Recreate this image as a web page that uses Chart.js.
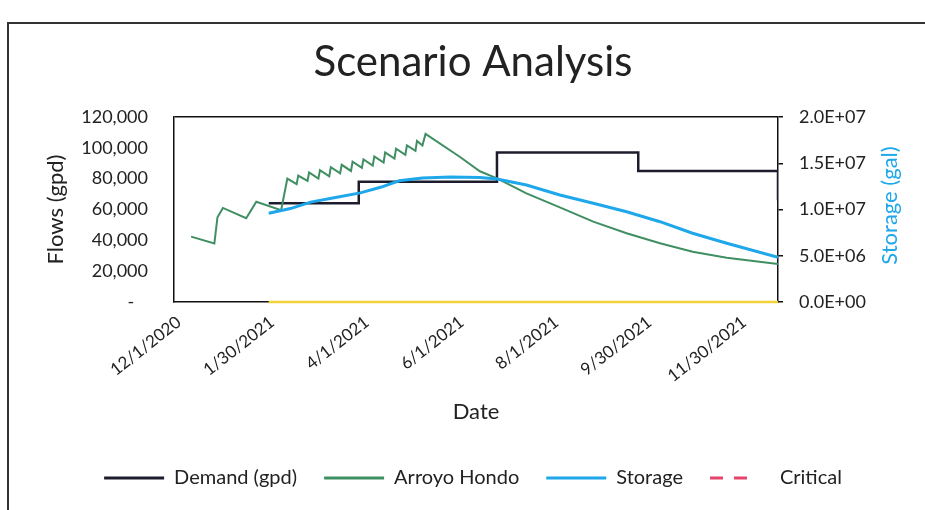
<!DOCTYPE html>
<html>
<head>
<meta charset="utf-8">
<script src="https://cdn.jsdelivr.net/npm/chart.js@4.4.1/dist/chart.umd.min.js"></script>
<style>
  html, body { margin: 0; padding: 0; background: #fff; }
  #wrap { position: relative; width: 925px; height: 510px; overflow: hidden; }
  #frame { position: absolute; left: 7px; top: 22px; width: 940px; height: 500px; border-left: 2px solid #333; border-top: 2px solid #333; }
  canvas { position: absolute; left: 0; top: 0; }
</style>
</head>
<body>
<div id="wrap">
  <div id="frame"></div>
  <canvas id="chart" width="925" height="510"></canvas>
</div>
<script>
// x values are days counted from 12/1/2020
const tickDays = [0, 60, 121, 182, 243, 303, 364];
const tickLabels = ['12/1/2020', '1/30/2021', '4/1/2021', '6/1/2021', '8/1/2021', '9/30/2021', '11/30/2021'];

const demandDays = [61, 119, 208, 299, 389];
const demandFlows = [64000, 78000, 97000, 85000, 66000];

const arroyoDays = [11, 26, 28, 31.5, 46.5, 53, 69,
  73, 79, 80, 86, 87, 93, 94, 100, 101, 107, 108, 114, 115, 121, 122,
  128, 129, 135, 136, 142, 143, 149, 150, 155.5, 156.5, 160, 162,
  184, 197, 208, 227, 248.5, 270, 291.5, 313, 334, 356, 389];
const arroyoFlows = [42400, 38000, 55000, 61000, 54300, 65000, 59500,
  80000, 76500, 82000, 78500, 84000, 80000, 85500, 81500, 87500, 83500, 89000, 85000, 91000, 87000, 92500,
  88500, 94500, 90500, 97000, 93000, 99500, 95500, 101500, 98000, 104500, 101500, 109000,
  94200, 84800, 80200, 70500, 61400, 52100, 44600, 38100, 32600, 28700, 24600];

const storageDays = [61, 75, 88, 104, 120, 133, 145, 160, 178, 197, 208, 227, 248.5, 270, 291.5, 313, 334, 356, 389];
const storageGal = [9.6e6, 10.1e6, 10.8e6, 11.3e6, 11.8e6, 12.4e6, 13.1e6, 13.4e6, 13.5e6, 13.45e6, 13.3e6,
  12.65e6, 11.57e6, 10.67e6, 9.76e6, 8.68e6, 7.43e6, 6.35e6, 4.83e6];

const zeroDays = [61, 389];
const zeroFlows = [0, 0];

const criticalDays = [];
const criticalGal = [];

const txt = '#222';
const fam = 'Lato, "Open Sans", sans-serif';

function pts(xs, ys) {
  return xs.map((x, i) => ({ x: x, y: ys[i] }));
}

function sci(v) {
  const parts = v.toExponential(1).split('e');
  const n = Math.abs(parseInt(parts[1], 10));
  return parts[0] + 'E' + (parts[1][0] === '-' ? '-' : '+') + String(n).padStart(2, '0');
}

const rightTitle = {
  id: 'rightTitle',
  afterDraw(chart) {
    const s = chart.scales.y2;
    const c = chart.ctx;
    c.save();
    c.translate(s.right - 17, (s.top + s.bottom) / 2 - 4);
    c.rotate(-Math.PI / 2);
    c.font = '22px ' + fam;
    c.fillStyle = '#1ea7ea';
    c.textAlign = 'center';
    c.textBaseline = 'middle';
    c.fillText('Storage (gal)', 0, 0);
    c.restore();
  }
};

new Chart(document.getElementById('chart'), {
  type: 'line',
  data: {
    datasets: [
      { label: 'Demand (gpd)', data: pts(demandDays, demandFlows), borderColor: '#1c1c2c', backgroundColor: '#1c1c2c', borderWidth: 2.5, stepped: true, yAxisID: 'y', order: 3 },
      { label: 'Arroyo Hondo', data: pts(arroyoDays, arroyoFlows), borderColor: '#3f8f62', backgroundColor: '#3f8f62', borderWidth: 2, yAxisID: 'y', order: 2 },
      { label: 'Storage', data: pts(storageDays, storageGal), borderColor: '#1ea7ea', backgroundColor: '#1ea7ea', borderWidth: 3, yAxisID: 'y2', order: 1 },
      { label: 'Critical', data: pts(criticalDays, criticalGal), borderColor: '#e8436c', backgroundColor: '#e8436c', borderWidth: 3, borderDash: [13, 11, 13, 23], yAxisID: 'y2', order: 4 },
      { label: '', data: pts(zeroDays, zeroFlows), borderColor: '#f3d23a', backgroundColor: '#f3d23a', borderWidth: 2.5, clip: false, yAxisID: 'y', order: 0 }
    ]
  },
  options: {
    responsive: false,
    animation: false,
    elements: { point: { radius: 0 }, line: { tension: 0, fill: false } },
    layout: { padding: { left: 39, right: 18, top: 0, bottom: 12 } },
    scales: {
      x: {
        type: 'linear', min: 0, max: 389,
        afterBuildTicks: (s) => { s.ticks = tickDays.map(v => ({ value: v })); },
        ticks: {
          autoSkip: false, minRotation: 38, maxRotation: 38, padding: 10, labelOffset: 5, color: txt,
          font: { family: fam, size: 17 },
          callback: (v) => { const i = tickDays.indexOf(v); return i >= 0 ? tickLabels[i] : ''; }
        },
        grid: { display: false, drawTicks: false },
        border: { display: true, color: '#111', width: 1.5 },
        title: { display: true, text: 'Date', color: txt, font: { family: fam, size: 22 }, padding: { top: 4, bottom: 16 } },
        afterFit: (s) => { s.height = 139; }
      },
      y: {
        position: 'left', min: 0, max: 120000,
        ticks: {
          stepSize: 20000, padding: 26, color: txt, font: { family: fam, size: 18 },
          callback: (v) => v === 0 ? '-   ' : v.toLocaleString('en-US')
        },
        grid: {
          drawTicks: false, lineWidth: 1.5,
          color: (c) => (c.tick && c.tick.value === 120000) ? '#111' : 'rgba(0,0,0,0)'
        },
        border: { color: '#111', width: 1.5 },
        title: { display: true, text: 'Flows (gpd)', color: txt, font: { family: fam, size: 22 }, padding: { top: 4, bottom: 4 } },
        afterFit: (s) => { s.width = 135; }
      },
      y2: {
        position: 'right', min: 0, max: 2e7,
        ticks: { stepSize: 5e6, padding: 16, color: txt, font: { family: fam, size: 18 }, callback: (v) => sci(v) },
        grid: { drawOnChartArea: false, drawTicks: true, tickLength: 5, color: '#111', lineWidth: 1.5 },
        border: { color: '#111', width: 1.5 },
        afterFit: (s) => { s.width = 129; }
      }
    },
    plugins: {
      title: {
        display: true, text: 'Scenario Analysis', color: txt,
        font: { family: fam, size: 42, weight: 'normal' },
        padding: { top: 37, bottom: 29.6 }
      },
      legend: {
        position: 'bottom',
        labels: {
          usePointStyle: true, pointStyle: 'line', pointStyleWidth: 60, padding: 27,
          color: txt, font: { family: fam, size: 20 },
          generateLabels: (chart) => {
            const items = Chart.defaults.plugins.legend.labels.generateLabels(chart);
            items.forEach((it) => {
              const ds = chart.data.datasets[it.datasetIndex];
              it.lineDash = ds.borderDash || [];
              it.lineWidth = 3;
              it.strokeStyle = ds.borderColor;
            });
            return items;
          },
          filter: (item) => item.text !== '',
          sort: (a, b) => a.datasetIndex - b.datasetIndex
        }
      },
      tooltip: { enabled: false }
    }
  },
  plugins: [rightTitle]
});
</script>
</body>
</html>
